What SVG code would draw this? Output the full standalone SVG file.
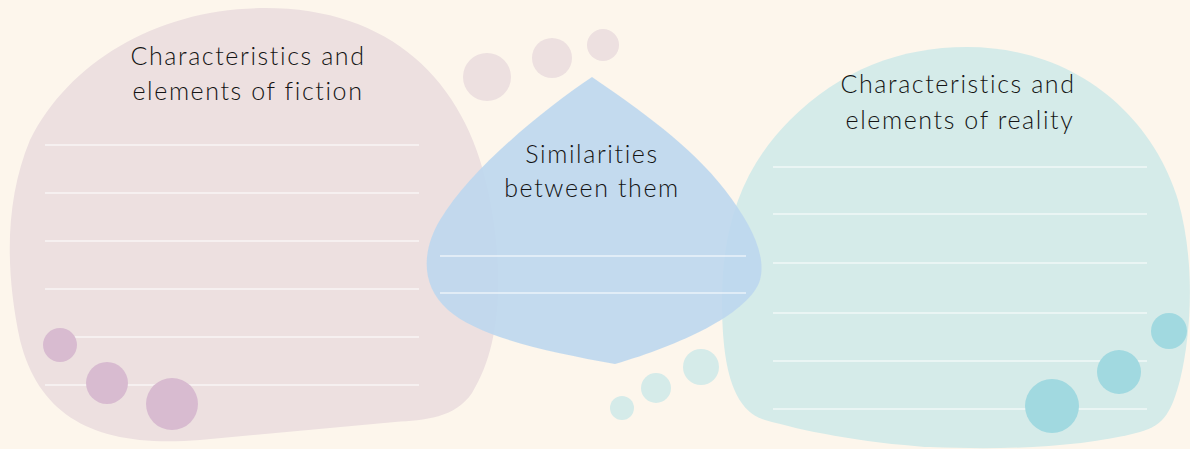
<svg xmlns="http://www.w3.org/2000/svg" width="1190" height="449" viewBox="0 0 1190 449">
  <style>
    .rule { stroke: #ffffff; stroke-width: 1.2; }
    .label { font-family: "Lato", "Open Sans", sans-serif; font-weight: 300; font-size: 25px; fill: #141414; text-anchor: middle; letter-spacing: 1.6px; }
    .dot-pink { fill: #ede0e0; }
    .dot-mauve { fill: #d8bbd0; }
    .dot-mint { fill: #d5ebe9; }
    .dot-teal { fill: #a1d9e0; }
  </style>
  <rect width="1190" height="449" fill="#fdf6ec"/>

  <!-- fiction panel -->
  <g id="fiction">
    <path d="M 265,8 C 390,8 465,80 488,190 C 505,270 502,345 472,393 C 455,418 425,420 395,422 L 200,440 C 100,448 40,420 20,340 C 5,270 5,200 30,140 C 70,60 160,8 265,8 Z" fill="#ede0e0"/>
    <g class="rule">
      <line x1="45" y1="145" x2="419" y2="145"/>
      <line x1="45" y1="193" x2="419" y2="193"/>
      <line x1="45" y1="241" x2="419" y2="241"/>
      <line x1="45" y1="289" x2="419" y2="289"/>
      <line x1="45" y1="337" x2="419" y2="337"/>
      <line x1="45" y1="385" x2="419" y2="385"/>
    </g>
    <circle class="dot-mauve" cx="60" cy="345" r="17"/>
    <circle class="dot-mauve" cx="107" cy="383" r="21"/>
    <circle class="dot-mauve" cx="172" cy="404" r="26"/>
    <text class="label" x="248" y="65">Characteristics and</text>
    <text class="label" x="248" y="100">elements of fiction</text>
  </g>

  <!-- reality panel -->
  <g id="reality">
    <path d="M 967,47 C 1070,47 1150,110 1178,200 C 1195,260 1192,330 1180,380 C 1172,410 1165,425 1140,432 C 1080,448 1000,450 930,447 C 860,443 800,430 765,420 C 730,410 722,360 722,300 C 722,230 740,170 790,120 C 840,70 900,47 967,47 Z" fill="#d5ebe9"/>
    <g class="rule">
      <line x1="773" y1="167" x2="1147" y2="167"/>
      <line x1="773" y1="214" x2="1147" y2="214"/>
      <line x1="773" y1="263" x2="1147" y2="263"/>
      <line x1="773" y1="313" x2="1147" y2="313"/>
      <line x1="773" y1="361" x2="1147" y2="361"/>
      <line x1="773" y1="409" x2="1147" y2="409"/>
    </g>
    <circle class="dot-teal" cx="1052" cy="406" r="27"/>
    <circle class="dot-teal" cx="1119" cy="372" r="22"/>
    <circle class="dot-teal" cx="1169" cy="331" r="18"/>
    <text class="label" x="958" y="93">Characteristics and</text>
    <text class="label" x="960" y="129">elements of reality</text>
  </g>

  <!-- decorative dots between panels -->
  <g id="dots">
    <circle class="dot-pink" cx="487" cy="77" r="24"/>
    <circle class="dot-pink" cx="552" cy="58" r="20"/>
    <circle class="dot-pink" cx="603" cy="45" r="16"/>
    <circle class="dot-mint" cx="701" cy="367" r="18"/>
    <circle class="dot-mint" cx="656" cy="388" r="15"/>
    <circle class="dot-mint" cx="622" cy="408" r="12"/>
  </g>

  <!-- similarities panel (translucent, over both sides) -->
  <g id="similarities">
    <path d="M 592,77 C 540,112 470,170 440,220 C 422,250 420,285 448,310 C 480,338 550,352 615,364 C 680,345 745,315 759,283 C 768,258 752,225 725,190 C 690,145 640,110 592,77 Z" fill="#bcd7ee" fill-opacity="0.9"/>
    <g class="rule">
      <line x1="440" y1="256" x2="746" y2="256"/>
      <line x1="440" y1="293" x2="746" y2="293"/>
    </g>
    <text class="label" x="592" y="163">Similarities</text>
    <text class="label" x="592" y="197">between them</text>
  </g>
</svg>
